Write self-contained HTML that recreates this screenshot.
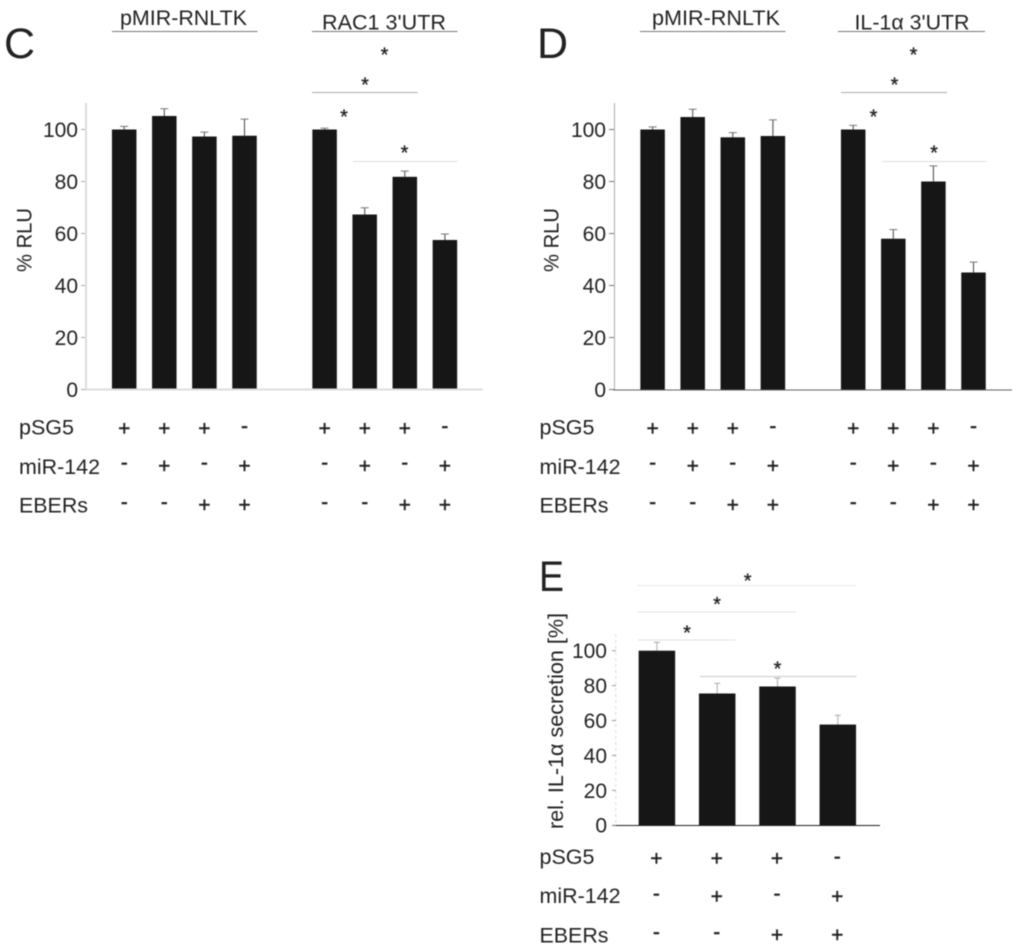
<!DOCTYPE html>
<html lang="en">
<head>
<meta charset="utf-8">
<title>RLU bar chart panels C, D, E</title>
<style>
html,body{margin:0;padding:0;background:#fff;width:1024px;height:951px;overflow:hidden}
svg{display:block;filter:blur(0.45px)}
text{font-family:"Liberation Sans","DejaVu Sans",sans-serif;fill:#222}
</style>
</head>
<body>
<svg id="figure" xmlns="http://www.w3.org/2000/svg" width="1024" height="951" viewBox="0 0 1024 951"></svg>
<script>
const tickLabels = [0, 20, 40, 60, 80, 100];

const cValues = [100, 105.2, 97.3, 97.6, 100, 67.3, 81.8, 57.5];
const cErrorTops = [101.2, 108, 99, 104, 100.5, 69.9, 84, 59.8];
const dValues = [100, 104.8, 97, 97.5, 100, 58, 80, 45];
const dErrorTops = [101, 107.8, 98.8, 103.7, 101.6, 61.5, 86, 49];
const eValues = [100, 75.5, 79.5, 57.7];
const eErrorTops = [104.8, 81.3, 84.3, 63];

const pSG5Signs = ['+', '+', '+', '-', '+', '+', '+', '-'];
const miRSigns = ['-', '+', '-', '+', '-', '+', '-', '+'];
const ebersSigns = ['-', '-', '+', '+', '-', '-', '+', '+'];
const ePSG5Signs = ['+', '+', '+', '-'];
const eMiRSigns = ['-', '+', '-', '+'];
const eEbersSigns = ['-', '-', '+', '+'];

const svg = document.getElementById('figure');
const LABEL_SIZE = 21;

function make(tag, attrs, parent, content) {
  const el = document.createElementNS('http://www.w3.org/2000/svg', tag);
  for (const k in attrs) el.setAttribute(k, attrs[k]);
  if (content !== undefined) el.textContent = content;
  (parent || svg).appendChild(el);
  return el;
}

function drawLine(x1, y1, x2, y2, color, width, name, parent) {
  const el = make('line', { x1: x1, y1: y1, x2: x2, y2: y2, stroke: color, 'stroke-width': width }, parent);
  
  
  return el;
}

function drawText(x, y, str, size, name, parent, anchor, len) {
  const a = { x: x, y: y, 'font-size': size, 'text-anchor': anchor || 'start' };
  if (len) { a.textLength = len; a.lengthAdjust = 'spacingAndGlyphs'; }
  const el = make('text', a, parent, str);
  
  
  return el;
}

function drawStar(cx, cy, name, parent) {
  const el = drawText(cx, cy + 9.5, '*', 20, name, parent, 'middle');
  el.setAttribute('style', 'stroke:#222;stroke-width:0.3px');
  return el;
}

function drawSign(cx, cy, sign, name, parent) {
  const base = sign === '+' ? cy + 7 : cy + 5;
  const el = drawText(cx, base, sign, 21, name, parent, 'middle');
  el.setAttribute('style', 'stroke:#222;stroke-width:0.4px');
  return el;
}

function drawBars(g, prefix, values, tops, xFn, yFn, barWidth, capWidth, stemColor, capColor) {
  values.forEach(function (v, i) {
    drawLine(xFn(i), yFn(v), xFn(i), yFn(tops[i]), stemColor, 1, prefix + '-error-bar-' + (i + 1), g);
    drawLine(xFn(i) - capWidth / 2, yFn(tops[i]), xFn(i) + capWidth / 2, yFn(tops[i]), capColor, 1, prefix + '-error-cap-' + (i + 1), g);
    const bar = make('rect', { x: xFn(i) - barWidth / 2, y: yFn(v), width: barWidth, height: yFn(0) - yFn(v), fill: '#161616' }, g);
    
    
  });
}

function drawYAxis(g, prefix, yFn, axisX, tickLeft, labelRight, tickColor) {
  tickLabels.forEach(function (t) {
    drawLine(tickLeft, yFn(t), axisX, yFn(t), tickColor, 1, prefix + '-y-tick-' + t, g);
    drawText(labelRight, yFn(t) + 7.4, String(t), LABEL_SIZE, prefix + '-y-tick-label-' + t, g, 'end');
  });
}

function drawRows(g, prefix, rows, xFn, labelX) {
  rows.forEach(function (row) {
    drawText(labelX, row.base, row.label, LABEL_SIZE, prefix + '-row-label-' + row.key, g, 'start', row.len);
    row.signs.forEach(function (s, i) {
      drawSign(xFn(i), s === '+' ? row.plusY : row.minusY, s, prefix + '-' + row.key + '-sign-' + (i + 1), g);
    });
  });
}

function group(name) {
  const g = make('g', {});
  
  
  return g;
}

function rowSpec(a, b, c) {
  return [
    { key: 'psg5', label: 'pSG5', base: 434.5, len: 55, signs: a, plusY: 428.3, minusY: 428 },
    { key: 'mir142', label: 'miR-142', base: 474, len: 81, signs: b, plusY: 466, minusY: 464.5 },
    { key: 'ebers', label: 'EBERs', base: 512.5, len: 69, signs: c, plusY: 505, minusY: 504 }
  ];
}

/* Panel C */
const yC = function (v) { return 389.5 - 2.6 * v; };
const xC = function (i) { return 124.2 + i * 40.1 + (i >= 4 ? 40 : 0); };
const gC = group('panel-c');
drawText(4, 58, 'C', 43, 'panel-c-letter', gC);
drawBars(gC, 'panel-c', cValues, cErrorTops, xC, yC, 24.5, 8, '#444', '#777');
drawLine(86, 103, 86, 390, '#ddd', 2, 'panel-c-y-axis', gC);
drawLine(85, 389.5, 483, 389.5, '#ddd', 2, 'panel-c-x-axis', gC);
drawYAxis(gC, 'panel-c', yC, 85, 81, 78, '#aaa');
const cTitle = drawText(0, 0, '% RLU', LABEL_SIZE, 'panel-c-y-axis-title', gC, 'middle', 64);
cTitle.setAttribute('transform', 'translate(31.5,240) rotate(-90)');
drawText(120, 25, 'pMIR-RNLTK', LABEL_SIZE, 'panel-c-left-title', gC, 'start', 127);
drawLine(112, 31.5, 257.5, 31.5, '#777', 1, 'panel-c-left-title-rule', gC);
drawText(322, 29.5, "RAC1 3'UTR", LABEL_SIZE, 'panel-c-right-title', gC, 'start', 124);
drawLine(312, 31.5, 457.5, 31.5, '#777', 1, 'panel-c-right-title-rule', gC);
drawStar(384.5, 52, 'panel-c-significance-star-1', gC);
drawStar(365, 82, 'panel-c-significance-star-2', gC);
drawLine(312, 92.5, 417.5, 92.5, '#aaa', 1, 'panel-c-significance-rule-2', gC);
drawStar(344, 114, 'panel-c-significance-star-3', gC);
drawStar(404.5, 150, 'panel-c-significance-star-4', gC);
drawLine(353, 161.5, 457.5, 161.5, '#ddd', 1, 'panel-c-significance-rule-4', gC);
drawRows(gC, 'panel-c', rowSpec(pSG5Signs, miRSigns, ebersSigns), xC, 19);

/* Panel D */
const yD = function (v) { return 389.5 - 2.6 * v; };
const xD = function (i) { return 652.6 + i * 40.1 + (i >= 4 ? 40.2 : 0); };
const gD = group('panel-d');
drawText(537, 58, 'D', 43, 'panel-d-letter', gD);
drawBars(gD, 'panel-d', dValues, dErrorTops, xD, yD, 24.5, 8, '#444', '#777');
drawLine(614.5, 103, 614.5, 390, '#aaa', 1, 'panel-d-y-axis', gD);
drawLine(613, 390, 1012, 390, '#666', 1, 'panel-d-x-axis', gD);
drawYAxis(gD, 'panel-d', yD, 614, 609, 606, '#777');
const dTitle = drawText(0, 0, '% RLU', LABEL_SIZE, 'panel-d-y-axis-title', gD, 'middle', 64);
dTitle.setAttribute('transform', 'translate(558.5,240) rotate(-90)');
drawText(652, 25, 'pMIR-RNLTK', LABEL_SIZE, 'panel-d-left-title', gD, 'start', 128);
drawLine(640, 31.5, 785.5, 31.5, '#777', 1, 'panel-d-left-title-rule', gD);
drawText(854.5, 29.5, 'IL-1α 3\'UTR', LABEL_SIZE, 'panel-d-right-title', gD, 'start', 115);
drawLine(838, 31.5, 985, 31.5, '#777', 1, 'panel-d-right-title-rule', gD);
drawStar(913.5, 52, 'panel-d-significance-star-1', gD);
drawStar(894.5, 82, 'panel-d-significance-star-2', gD);
drawLine(841, 92.5, 947, 92.5, '#aaa', 1, 'panel-d-significance-rule-2', gD);
drawStar(873.5, 114, 'panel-d-significance-star-3', gD);
drawStar(934, 150, 'panel-d-significance-star-4', gD);
drawLine(882, 161.5, 986.5, 161.5, '#ddd', 1, 'panel-d-significance-rule-4', gD);
drawRows(gD, 'panel-d', rowSpec(pSG5Signs, miRSigns, ebersSigns), xD, 539.5);

/* Panel E */
const yE = function (v) { return 825.3 - 1.746 * v; };
const xE = function (i) { return 656.9 + i * 60.3; };
const gE = group('panel-e');
const eLetter = drawText(539, 591, 'E', 43, 'panel-e-letter', gE, 'start', 25);
drawBars(gE, 'panel-e', eValues, eErrorTops, xE, yE, 36.5, 6, '#aaa', '#aaa');
const eAxis = drawLine(615.7, 634, 615.7, 825, '#ddd', 1, 'panel-e-y-axis', gE);
eAxis.setAttribute('stroke-dasharray', '3 3');
drawLine(612, 825.5, 880, 825.5, '#222', 1, 'panel-e-x-axis', gE);
drawYAxis(gE, 'panel-e', yE, 616, 612, 607, '#999');
const eTitle = drawText(0, 0, 'rel. IL-1α secretion [%]', LABEL_SIZE, 'panel-e-y-axis-title', gE, 'middle', 216);
eTitle.setAttribute('transform', 'translate(563,721) rotate(-90)');
drawStar(747.7, 578, 'panel-e-significance-star-1', gE);
const eRule1 = drawLine(638, 585.5, 857, 585.5, '#ddd', 1, 'panel-e-significance-rule-1', gE);
eRule1.setAttribute('stroke-dasharray', '2 1');
drawStar(717, 601.5, 'panel-e-significance-star-2', gE);
drawLine(638, 612, 796, 612, '#e2e2e2', 1, 'panel-e-significance-rule-2', gE);
drawStar(687, 630, 'panel-e-significance-star-3', gE);
drawLine(638, 640, 736, 640, '#e2e2e2', 1, 'panel-e-significance-rule-3', gE);
drawStar(777.5, 666, 'panel-e-significance-star-4', gE);
drawLine(700, 676.5, 856.5, 676.5, '#ccc', 1, 'panel-e-significance-rule-4', gE);
drawRows(gE, 'panel-e', [
  { key: 'psg5', label: 'pSG5', base: 864, len: 55, signs: ePSG5Signs, plusY: 858.7, minusY: 858.7 },
  { key: 'mir142', label: 'miR-142', base: 903, len: 81, signs: eMiRSigns, plusY: 896.7, minusY: 895.5 },
  { key: 'ebers', label: 'EBERs', base: 942.5, len: 69, signs: eEbersSigns, plusY: 935, minusY: 934 }
], function (i) { return xE(i) - 0.5; }, 539.5);
</script>
</body>
</html>
